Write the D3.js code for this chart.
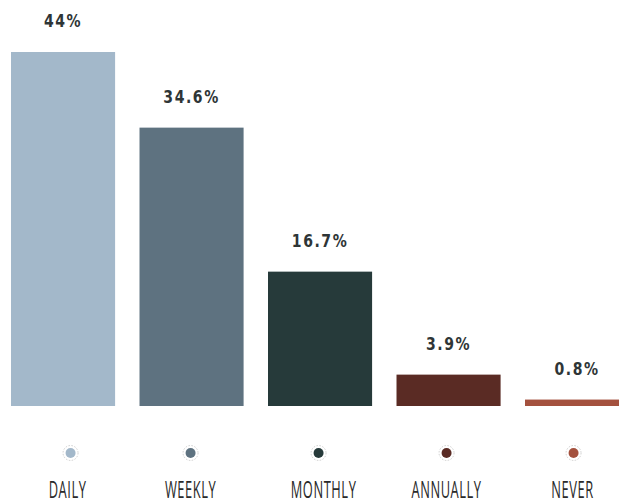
<!DOCTYPE html>
<html><head><meta charset="utf-8">
<script src="https://cdn.jsdelivr.net/npm/d3@7"></script>
<style>html,body{margin:0;padding:0;background:#fff;overflow:hidden}</style>
</head><body>
<svg id="c" width="619" height="503"></svg>
<script>
const categories = ["DAILY", "WEEKLY", "MONTHLY", "ANNUALLY", "NEVER"];
const values = [44, 34.6, 16.7, 3.9, 0.8];
const valueLabels = ["44%", "34.6%", "16.7%", "3.9%", "0.8%"];
const colors = ["#a3b8ca", "#5e7280", "#263a3a", "#5a2b24", "#a4513e"];
const dotOffsets = [7.5, -1, -1.5, -2, -3.5];
const labelOffsets = [4.5, -1, 3.5, -2, -4.5];

const svg = d3.select("#c");
const x = d3.scaleBand().domain(categories).range([-1.2, 641.3])
  .paddingInner(0.19).paddingOuter(0.095);
const y = d3.scaleLinear().domain([0, 44]).range([406, 52]);
const mid = d => x(d) + x.bandwidth() / 2;

svg.selectAll("rect.bar").data(categories).join("rect")
  .attr("class", "bar")
  .attr("x", d => x(d))
  .attr("width", x.bandwidth())
  .attr("y", (d, i) => y(values[i]))
  .attr("height", (d, i) => y(0) - y(values[i]))
  .attr("fill", (d, i) => colors[i]);

svg.selectAll("text.val").data(categories).join("text")
  .attr("class", "val")
  .attr("transform", (d, i) => `translate(${mid(d)},${y(values[i]) - 25}) scale(0.78,1)`)
  .attr("text-anchor", "middle")
  .attr("font-family", "'DejaVu Sans', sans-serif")
  .attr("font-weight", "bold")
  .attr("font-size", 18)
  .attr("letter-spacing", 2)
  .attr("fill", "#2e3536")
  .text((d, i) => valueLabels[i]);

const cx = (d, i) => mid(d) + dotOffsets[i];

svg.selectAll("circle.ring").data(categories).join("circle")
  .attr("class", "ring")
  .attr("cx", cx)
  .attr("cy", 453)
  .attr("r", 7.5)
  .attr("fill", "none")
  .attr("stroke", "#cfcfcf")
  .attr("stroke-width", 1)
  .attr("stroke-dasharray", "1.5 1.5");

svg.selectAll("circle.dot").data(categories).join("circle")
  .attr("class", "dot")
  .attr("cx", cx)
  .attr("cy", 453)
  .attr("r", 5)
  .attr("fill", (d, i) => colors[i]);

svg.selectAll("text.cat").data(categories).join("text")
  .attr("class", "cat")
  .attr("transform", (d, i) => `translate(${mid(d) + labelOffsets[i]},498) scale(0.56,1)`)
  .attr("text-anchor", "middle")
  .attr("font-family", "'Open Sans', 'DejaVu Sans', sans-serif")
  .attr("font-weight", 400)
  .attr("font-size", 23)
  .attr("letter-spacing", 1)
  .attr("fill", "#2a2a2a")
  .text(d => d);
</script>
</body></html>
